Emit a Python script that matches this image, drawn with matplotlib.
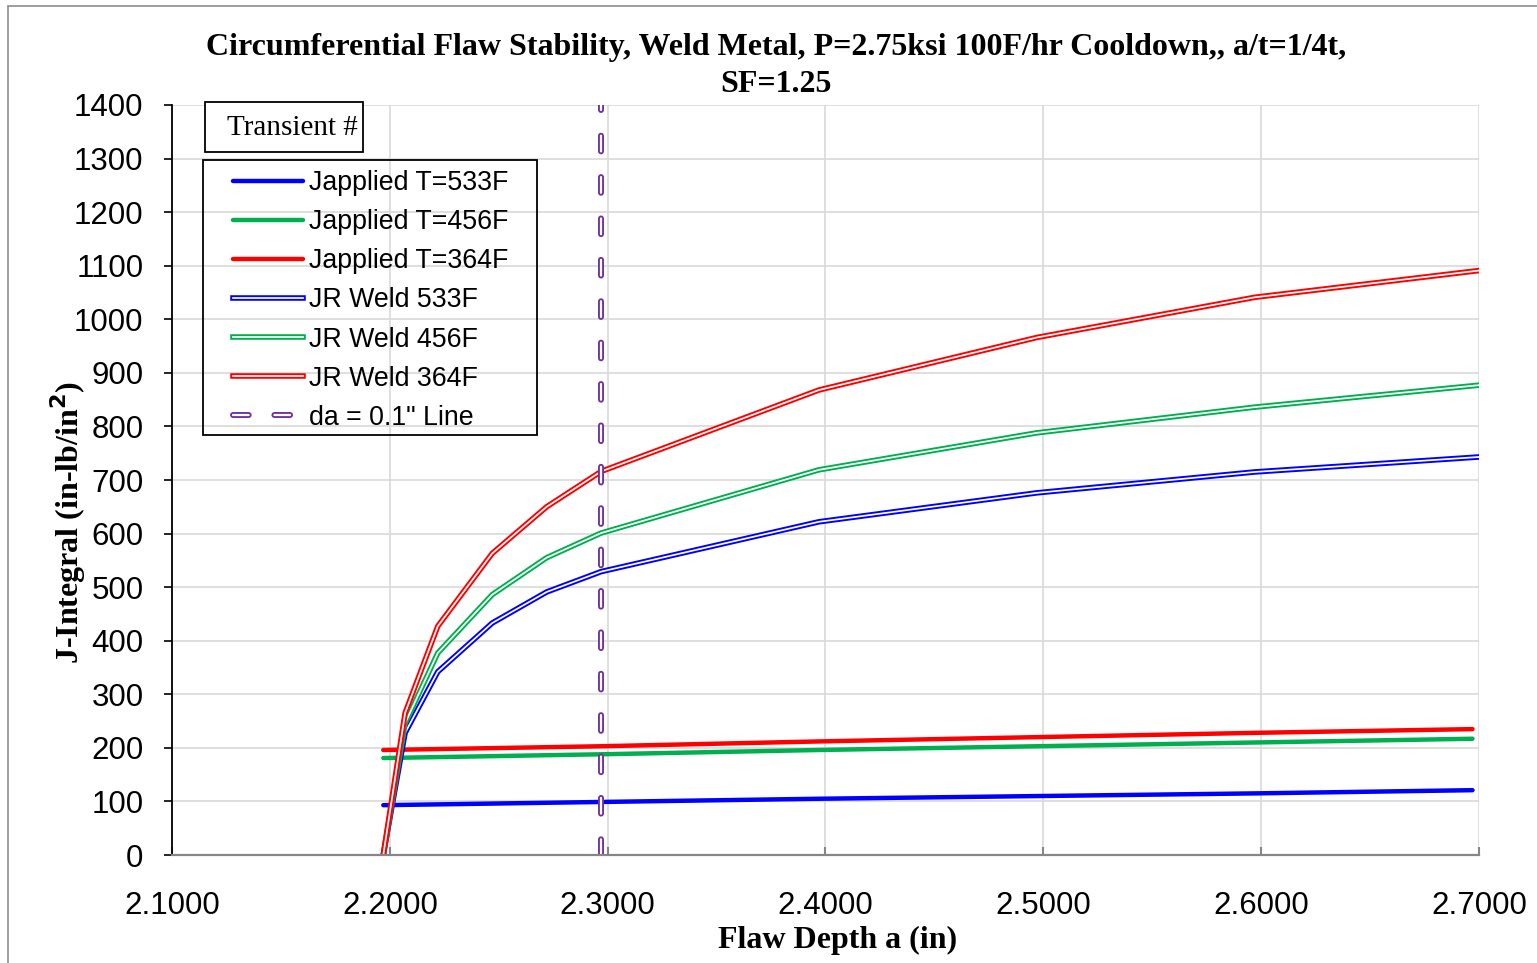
import matplotlib
matplotlib.use("Agg")
import matplotlib.pyplot as plt
import matplotlib.patheffects as pe
from matplotlib.patches import Rectangle

plt.rcParams["lines.scale_dashes"] = False

title = "Circumferential Flaw Stability, Weld Metal, P=2.75ksi 100F/hr Cooldown,, a/t=1/4t,\nSF=1.25"

# Japplied curves (straight-ish lines)
a_applied = [2.197, 2.297, 2.397, 2.497, 2.597, 2.697]
j_applied_533 = [93, 99, 105, 110, 115, 121]
j_applied_456 = [181, 188, 196, 203, 210, 217]
j_applied_364 = [196, 203, 212, 220, 228, 235]

# JR resistance curves
a_jr = [2.197, 2.207, 2.222, 2.247, 2.272, 2.297, 2.397, 2.497, 2.597, 2.7]
jr_533 = [0, 228, 342, 433, 491, 529, 622, 676, 715, 743]
jr_456 = [0, 246, 377, 486, 555, 601, 719, 788, 836, 877]
jr_364 = [0, 265, 427, 563, 650, 716, 868, 966, 1041, 1091]

da_line_x = 2.297

blue = "#0000FF"
green = "#00B050"
red = "#FF0000"
purple = "#7030A0"

W, H = 1537, 963
fig = plt.figure(figsize=(W / 100, H / 100), dpi=100)
ax = fig.add_axes([172 / W, 1 - 855 / H, (1479 - 172) / W, (855 - 105) / H])

ax.plot(a_applied, j_applied_533, color=blue, lw=3.2, label="Japplied T=533F", solid_capstyle="round")
ax.plot(a_applied, j_applied_456, color=green, lw=3.2, label="Japplied T=456F", solid_capstyle="round")
ax.plot(a_applied, j_applied_364, color=red, lw=3.2, label="Japplied T=364F", solid_capstyle="round")

for a, j, c, lab in [(a_jr, jr_533, blue, "JR Weld 533F"),
                     (a_jr, jr_456, green, "JR Weld 456F"),
                     (a_jr, jr_364, red, "JR Weld 364F")]:
    ax.plot(a, j, color="white", lw=1.25, label=lab,
            path_effects=[pe.Stroke(linewidth=4.0, foreground=c), pe.Normal()])

ax.plot([da_line_x, da_line_x], [0, 1400], color="white", lw=1.6,
        linestyle=(0, (11.3, 18.5)), dash_capstyle="round", label="da = 0.1\" Line",
        path_effects=[pe.Stroke(linewidth=4.3, foreground=purple), pe.Normal()])

ax.set_xlim(2.1, 2.7)
ax.set_ylim(0, 1400)
xt = [2.1, 2.2, 2.3, 2.4, 2.5, 2.6, 2.7]
ax.set_xticks(xt)
ax.set_xticklabels(["%.4f" % v for v in xt])
ax.set_yticks(range(0, 1401, 100))

ax.grid(True, color="#D9D9D9", lw=1.2)
ax.set_axisbelow(True)
for s in ["top", "right"]:
    ax.spines[s].set_visible(False)
ax.spines["left"].set_color("black")
ax.spines["left"].set_linewidth(1.3)
ax.spines["bottom"].set_color("#868686")
ax.spines["bottom"].set_linewidth(1.6)

ax.tick_params(axis="y", direction="out", length=6, width=1.2, color="black",
               labelsize=22.5, pad=14.5)
ax.tick_params(axis="x", direction="in", length=6, width=1.5, color="#868686",
               labelsize=22.5, pad=26)
for t in ax.get_xticklabels() + ax.get_yticklabels():
    t.set_fontfamily("Liberation Sans")

fig.text(776 / W, 1 - 66 / H, title, ha="center", va="center",
         fontsize=23, fontweight="bold", family="Liberation Serif", linespacing=1.38)
fig.text(838 / W, 1 - 940 / H, "Flaw Depth a (in)", ha="center", va="center",
         fontsize=23, fontweight="bold", family="Liberation Serif")
fig.text(68 / W, 1 - 522 / H, "J-Integral (in-lb/in$^{\\mathbf{2}}$)", ha="center", va="center",
         rotation=90, fontsize=23, fontweight="bold", family="Liberation Serif")

leg = ax.legend(loc="upper left", bbox_to_anchor=(233 / W, 1 - 170 / H),
                bbox_transform=fig.transFigure, prop={"family": "Liberation Sans", "size": 19.3},
                frameon=False, handlelength=2.6, handletextpad=0.22,
                labelspacing=0.49, borderpad=0, borderaxespad=0)
fig.patches.append(Rectangle((203 / W, 1 - 435 / H), (537 - 203) / W, (435 - 160) / H,
                             transform=fig.transFigure, fill=False, ec="black", lw=1.3))

# "Transient #" title box
fig.patches.append(Rectangle((205 / W, 1 - 152 / H), (363 - 205) / W, (152 - 102) / H,
                             transform=fig.transFigure, fc="white", ec="black", lw=1.3))
fig.text(292 / W, 1 - 128 / H, "Transient #", ha="center", va="center",
         fontsize=21, family="Liberation Serif")

# outer chart border
fig.patches.append(Rectangle((8 / W, -0.01), 1.0, 1 - 6 / H + 0.01,
                             transform=fig.transFigure, fill=False,
                             ec="#8C8C8C", lw=1.2))

fig.savefig("out.png", dpi=100)
